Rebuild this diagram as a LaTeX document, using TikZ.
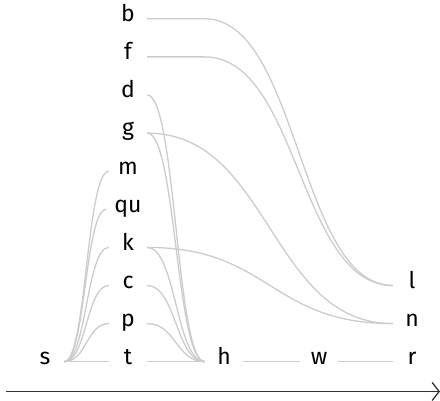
\documentclass[tikz,border=0pt]{standalone}
\usepackage{fontspec}
\setmainfont{Fira Sans}
\usetikzlibrary{arrows.meta,positioning,calc}

\definecolor{linkgray}{HTML}{CCCCCC}
\definecolor{axisgray}{HTML}{333333}

\begin{document}
\begin{tikzpicture}[x=1pt, y=1pt,
  font=\fontsize{23}{23}\selectfont,
  node distance=38.1pt and 94pt, on grid,
  letter/.style={inner xsep=8pt, inner ysep=0pt, minimum width=38pt,
                 text height=0.58em, text depth=0pt},
  link/.style={draw=linkgray, line width=1.3pt,
               to path={.. controls ($(\tikztostart)!#1!(\tikztotarget |- \tikztostart)$)
                        and ($(\tikztostart |- \tikztotarget)!#1!(\tikztotarget)$) .. (\tikztotarget)}},
  link/.default=0.5,
  axis/.style={draw=axisgray, line width=1.6pt,
               -{Straight Barb[length=7pt, width=18pt, line width=1.3pt]}}
]
\useasboundingbox (0,0) rectangle (440,401);

% --- Nodes ---
\node[letter] (t) at (128,39.3) {t};
\node[letter, above=of t]  (p)  {p};
\node[letter, above=of p]  (c)  {c};
\node[letter, above=of c]  (k)  {k};
\node[letter, above=of k]  (qu) {qu};
\node[letter, above=of qu] (m)  {m};
\node[letter, above=of m]  (g)  {g};
\node[letter, above=of g]  (d)  {d};
\node[letter, above=of d]  (f)  {f};
\node[letter, above=of f]  (b)  {b};
\node[letter, left=83pt of t]  (s) {s};
\node[letter, right=96pt of t] (h) {h};
\node[letter, right=95pt of h] (w) {w};
\node[letter, right=93pt of w] (r) {r};
\node[letter, above=of r] (n) {n};
\node[letter, above=of n] (l) {l};

% --- Links out of s ---
\draw[link] (s.east) to (t.west);
\draw[link] (s.east) to (p.west);
\draw[link] (s.east) to (c.west);
\draw[link] (s.east) to (k.west);
\draw[link] (s.east) to (qu.west);
\draw[link] (s.east) to (m.west);

% --- Links into h ---
\draw[link] (t.east) to (h.west);
\draw[link] (p.east) to (h.west);
\draw[link] (c.east) to (h.west);
\draw[link] (k.east) to (h.west);
\draw[link] (g.east) to (h.west);
\draw[link] (d.east) to (h.west);

% --- Right side ---
\draw[link] (h.east) to (w.west);
\draw[link] (w.east) to (r.west);
\draw[link] (b.east) -- (b.east -| h.west) to (l.west);  % b runs flat past the h column
\draw[link] (f.east) -- (f.east -| h.west) to (l.west);
\draw[link] (g.east) to (n.west);
\draw[link] (k.east) to (n.west);

% --- Axis ---
\coordinate (axstart) at (6,9.5);
\coordinate (axend)   at (440,9.5);
\draw[axis] (axstart) -- (axend);

\end{tikzpicture}
\end{document}
